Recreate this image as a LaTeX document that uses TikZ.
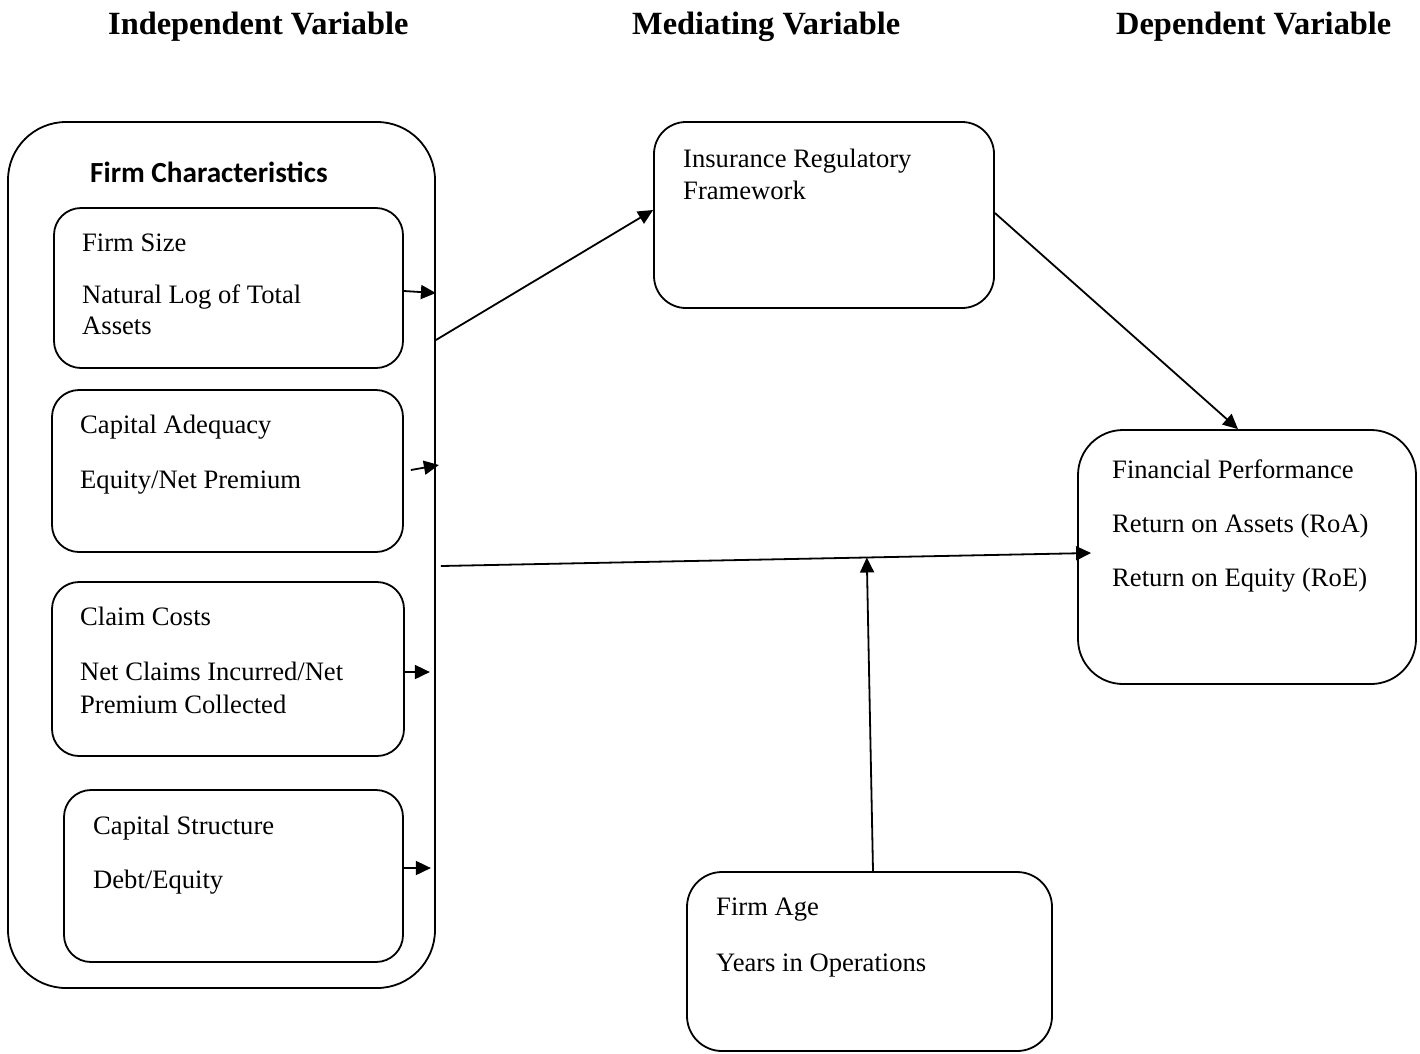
\documentclass[tikz,border=0pt]{standalone}
\usepackage{fontspec}
\setmainfont{Liberation Serif}
\newfontfamily\calfont{Carlito}
\usetikzlibrary{arrows.meta,calc}
\begin{document}
\begin{tikzpicture}[x=1pt,y=-1pt,
  box/.style={draw,line width=1.8pt,inner sep=0pt},
  txt/.style={anchor=base west,inner sep=0pt,font=\fontsize{26.6}{32}\selectfont},
  hdr/.style={anchor=base west,inner sep=0pt,font=\fontsize{32.4}{38}\selectfont\bfseries},
  arr/.style={line width=1.8pt,-{Triangle[length=15pt,width=14pt]}}]
\useasboundingbox (0,0) rectangle (1420,1053);
% headers
\node[hdr] (h1) at (108,34) {Independent Variable};
\node[hdr] (h2) at (632,34) {Mediating Variable};
\node[hdr] (h3) at (1116,34) {Dependent Variable};
% boxes
\node[box,minimum width=427pt,minimum height=866pt,rounded corners=58pt] (outer) at (221.5,555) {};
\node[box,minimum width=349pt,minimum height=160pt,rounded corners=27pt] (b1) at (228.5,288) {};
\node[box,minimum width=351pt,minimum height=162pt,rounded corners=27pt] (b2) at (227.5,471) {};
\node[box,minimum width=352pt,minimum height=174pt,rounded corners=27pt] (b3) at (228,669) {};
\node[box,minimum width=339pt,minimum height=172pt,rounded corners=27pt] (b4) at (233.5,876) {};
\node[box,minimum width=340pt,minimum height=186pt,rounded corners=32pt] (ir) at (824,215) {};
\node[box,minimum width=338pt,minimum height=254pt,rounded corners=45pt] (fp) at (1247,557) {};
\node[box,minimum width=365pt,minimum height=179pt,rounded corners=35pt] (fa) at (869.5,961.5) {};
% texts
\node[anchor=base west,inner sep=0pt,font=\calfont\fontsize{29.2}{34}\selectfont\bfseries] (fc) at (90,182) {Firm Characteristics};
\node[txt] (t1a) at (82,251) {Firm Size};
\node[txt] (t1b) at (82,303) {Natural Log of Total};
\node[txt] (t1c) at (82,334) {Assets};
\node[txt] (t2a) at (80,433) {Capital Adequacy};
\node[txt] (t2b) at (80,488) {Equity/Net Premium};
\node[txt] (t3a) at (80,625) {Claim Costs};
\node[txt] (t3b) at (80,680) {Net Claims Incurred/Net};
\node[txt] (t3c) at (80,713) {Premium Collected};
\node[txt] (t4a) at (93,834) {Capital Structure};
\node[txt] (t4b) at (93,888) {Debt/Equity};
\node[txt] (ira) at (683,167) {Insurance Regulatory};
\node[txt] (irb) at (683,199) {Framework};
\node[txt] (fpa) at (1112,478) {Financial Performance};
\node[txt] (fpb) at (1112,532) {Return on Assets (RoA)};
\node[txt] (fpc) at (1112,586) {Return on Equity (RoE)};
\node[txt] (faa) at (716,915) {Firm Age};
\node[txt] (fab) at (716,971) {Years in Operations};
% connectors
\draw[arr] ($(b1.east)+(0,3)$) -- ($(b1.east -| outer.east)+(0,5)$);
\draw[arr] ($(b2.east)+(7,-1)$) -- ($(b2.east -| outer.east)+(3,-6)$);
\draw[arr] ($(b3.east)+(0,3)$) -- ($(b3.east)+(25,3)$);
\draw[arr] ($(b4.east)+(0,-8)$) -- ($(b4.east)+(27,-8)$);
\draw[arr] ($(outer.east)+(0,-215)$) -- ($(ir.west)+(0,-5)$);
\draw[arr] ($(ir.east)+(0,-2)$) -- ($(fp.north)+(-9,0)$);
\coordinate (s) at ($(outer.east)+(5,11)$);
\coordinate (t) at ($(fp.west)+(14,-4)$);
\draw[arr] (s) -- (t);
\coordinate (j) at ($(s)!0.655!(t)$);
\draw[arr] ($(fa.north)+(3.5,0)$) -- (j);
\end{tikzpicture}
\end{document}
